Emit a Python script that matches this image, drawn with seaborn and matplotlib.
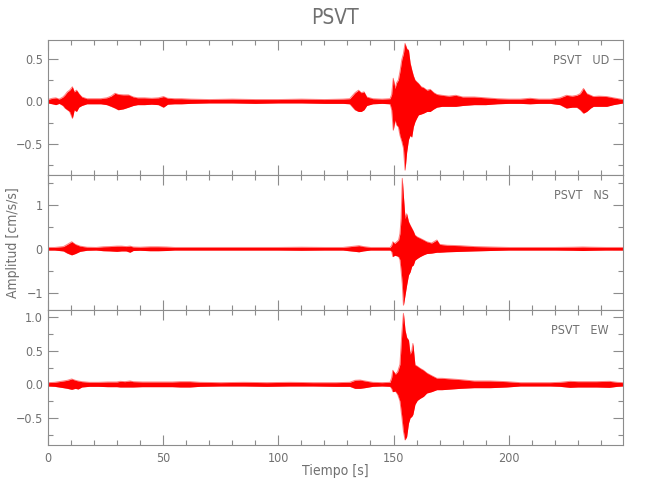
import pandas as pd
import matplotlib
matplotlib.use("Agg")
import matplotlib.pyplot as plt
import seaborn as sns
from matplotlib.ticker import MultipleLocator

station = "PSVT"
components = ["UD", "NS", "EW"]

ud_t = ([0, 2, 3.5, 5, 6.6, 7.5, 8.5, 9.5, 10.7, 11.5, 12.5, 13.5, 14.8]
        + [17, 20, 23, 25.6, 27.5, 29.2, 30.6, 32.8, 35, 37.1, 39, 42, 45, 48, 50.2, 52, 55, 58, 62]
        + [70, 80, 90, 100, 110, 120, 128, 131, 133.3, 134.8, 136, 137.2, 138.4, 141, 145, 148.5]
        + [149.2, 149.9, 150.6, 151.4, 152.1, 152.8, 153.6, 154.3, 155.0, 155.7, 156.5, 157.2, 157.9, 158.6, 159.3, 160.0, 160.8]
        + [162, 163, 164.5, 165.9, 167.5, 168.8, 171, 174, 177, 180, 185, 190, 195, 200, 205, 209.2, 213, 218]
        + [222.2, 225, 227.5, 229.5, 231, 232.4, 233.8, 235.5, 236.7, 239, 242.5, 245.4, 247.5, 249.7])
ud_up = ([.02, .035, .04, .025, .05, .075, .11, .13, .17, .11, .13, .09, .05]
         + [.03, .03, .03, .04, .06, .094, .08, .075, .075, .05, .04, .04, .035, .04, .055, .035, .03, .03, .025]
         + [.02, .025, .02, .02, .025, .02, .025, .03, .1, .13, .1, .11, .05, .03, .025, .03]
         + [.08, .27, .15, .22, .25, .35, .49, .56, .68, .62, .6, .45, .37, .3, .25, .23, .21]
         + [.17, .16, .13, .14, .1, .08, .07, .06, .07, .05, .05, .04, .03, .025, .025, .035, .025, .025]
         + [.04, .07, .06, .07, .09, .15, .09, .07, .055, .06, .055, .04, .03, .02])
ud_lo = ([-.02, -.03, -.04, -.025, -.05, -.08, -.10, -.12, -.20, -.10, -.12, -.07, -.05]
         + [-.03, -.03, -.03, -.04, -.06, -.08, -.10, -.09, -.07, -.05, -.04, -.04, -.035, -.04, -.07, -.035, -.03, -.03, -.025]
         + [-.02, -.02, -.025, -.02, -.02, -.025, -.025, -.03, -.1, -.12, -.12, -.1, -.05, -.03, -.025, -.03]
         + [-.1, -.34, -.22, -.28, -.3, -.4, -.47, -.55, -.81, -.6, -.45, -.4, -.42, -.3, -.24, -.2, -.16]
         + [-.15, -.14, -.12, -.12, -.09, -.07, -.06, -.06, -.06, -.05, -.04, -.04, -.03, -.025, -.025, -.03, -.025, -.025]
         + [-.04, -.08, -.07, -.07, -.1, -.14, -.12, -.08, -.06, -.06, -.06, -.04, -.03, -.02])

ns_t = ([0, 3, 6.8, 8.5, 10.4, 12, 14, 17, 21, 24.1, 27, 30, 32, 34, 35.7, 37.1, 40, 44.4, 48, 51.6]
        + [55, 62, 70, 80, 90, 100, 110, 120, 128, 133.3, 135, 136.9, 140, 145, 148.5]
        + [149.2, 149.7, 150.5, 151.4, 152.2, 152.8, 153.3, 153.8, 154.3, 155.0, 155.7, 156.5, 157.2,
           157.9, 158.6, 159.3, 160.3, 161.5, 163, 164.4, 166.5, 168.8, 170, 173.2, 178.9]
        + [185, 192, 200, 210, 220, 228, 232, 236, 242, 249.7])
ns_up = ([.03, .03, .05, .1, .16, .1, .06, .035, .03, .045, .05, .06, .06, .05, .06, .04, .035, .045, .045, .04]
         + [.03, .03, .03, .03, .03, .03, .035, .03, .03, .06, .07, .05, .03, .03, .03]
         + [.08, .16, .12, .16, .2, .35, .7, 1.61, 1.2, .69, .8, .62, .54,
            .47, .4, .31, .27, .24, .2, .16, .13, .2, .1, .08, .07]
         + [.05, .04, .03, .03, .03, .035, .04, .035, .03, .03])
ns_lo = ([-.03, -.03, -.05, -.1, -.14, -.11, -.06, -.035, -.03, -.045, -.05, -.06, -.05, -.05, -.08, -.04, -.035, -.045, -.045, -.04]
         + [-.03, -.03, -.03, -.03, -.03, -.03, -.035, -.03, -.03, -.06, -.07, -.05, -.03, -.03, -.03]
         + [-.06, -.18, -.15, -.16, -.18, -.25, -.5, -.8, -1.29, -1.06, -.83, -.6, -.53,
            -.4, -.37, -.26, -.22, -.18, -.14, -.11, -.1, -.08, -.08, -.07, -.06]
         + [-.05, -.04, -.03, -.03, -.03, -.035, -.04, -.035, -.03, -.03])

ew_t = ([0, 3, 6.8, 8.5, 10.4, 12, 13.2, 14.8, 18, 22, 26, 30, 31.4, 33.5, 35.7, 37.1, 41, 46, 50, 54]
        + [57.4, 60, 61.7, 66, 75, 85, 95, 105, 115, 125, 131, 133.3, 135.5, 137.6, 141, 145, 148.5]
        + [149.2, 149.7, 150.8, 151.8, 152.8, 153.6, 154.3, 155.0, 155.7, 156.5, 157.2, 157.9,
           158.4, 159.3, 160.3, 161.5, 163, 164.4, 166.5, 168.8, 171, 175, 179]
        + [185, 192, 199, 205, 212, 218, 222.2, 226.5, 230, 234, 238, 243.6, 247, 249.7])
ew_up = ([.025, .03, .05, .06, .08, .06, .05, .04, .03, .03, .035, .035, .045, .04, .05, .04, .035, .035, .035, .035]
         + [.04, .04, .04, .03, .025, .03, .025, .03, .025, .025, .03, .06, .064, .05, .03, .025, .03]
         + [.1, .21, .15, .19, .3, .76, 1.06, .81, .7, .66, .45, .5,
            .61, .29, .27, .24, .21, .17, .13, .09, .09, .08, .07]
         + [.05, .05, .04, .025, .025, .025, .03, .045, .04, .04, .04, .045, .03, .025])
ew_lo = ([-.025, -.03, -.05, -.06, -.075, -.06, -.07, -.04, -.03, -.03, -.035, -.035, -.04, -.04, -.04, -.04, -.035, -.035, -.035, -.035]
         + [-.04, -.04, -.04, -.03, -.025, -.025, -.03, -.025, -.025, -.03, -.03, -.06, -.06, -.05, -.03, -.025, -.03]
         + [-.06, -.11, -.1, -.15, -.25, -.48, -.7, -.83, -.78, -.58, -.5, -.48,
            -.45, -.3, -.24, -.21, -.18, -.13, -.11, -.08, -.08, -.07, -.06]
         + [-.05, -.05, -.04, -.025, -.025, -.025, -.03, -.045, -.04, -.04, -.04, -.045, -.03, -.025])

# rangos de cada eje (como en el original)
ylims = [(-0.867, 0.72), (-1.40, 1.686), (-0.906, 1.11)]
ymajor = [0.5, 1.0, 0.5]
yminor = [0.25, 0.5, 0.25]
t_end = 249.7

# --- estilo ---
sns.set_style("ticks")
plt.rcParams['font.family'] = ['DejaVu Sans']
plt.rcParams['font.stretch'] = 'condensed'
gray = '#707070'
spine = '#8c8c8c'

fig, axes = plt.subplots(3, 1, figsize=(6.5, 5), dpi=100, sharex=True)
fig.subplots_adjust(left=0.0734, right=0.959, top=0.92, bottom=0.11, hspace=0)

series = [(ud_t, ud_up, ud_lo), (ns_t, ns_up, ns_lo), (ew_t, ew_up, ew_lo)]
for i, ax in enumerate(axes):
    t, up, lo = series[i]
    df = pd.DataFrame({'t': t, 'up': up, 'lo': lo})
    ax.fill_between(df['t'], df['lo'], df['up'], color='red', lw=0)
    sns.lineplot(data=df, x='t', y='up', ax=ax, color='red', lw=0.7, alpha=0.5)
    sns.lineplot(data=df, x='t', y='lo', ax=ax, color='red', lw=0.7, alpha=0.5)

    ax.set_xlim(0, t_end)
    ax.set_ylim(*ylims[i])
    ax.set_xlabel('')
    ax.set_ylabel('')
    ax.xaxis.set_major_locator(MultipleLocator(50))
    ax.xaxis.set_minor_locator(MultipleLocator(10))
    ax.yaxis.set_major_locator(MultipleLocator(ymajor[i]))
    ax.yaxis.set_minor_locator(MultipleLocator(yminor[i]))
    ax.tick_params(which='both', direction='in', top=True, right=True,
                   color=spine, labelcolor=gray, labelsize=9, width=0.8)
    ax.tick_params(which='major', length=7.5)
    ax.tick_params(which='minor', length=3.8)
    for s in ax.spines.values():
        s.set_color(spine)
        s.set_linewidth(0.8)
    ax.text(0.975, 0.845, f'{station}   {components[i]}', transform=ax.transAxes,
            ha='right', va='center', color=gray, fontsize=9)

axes[-1].tick_params(axis='x', pad=5)
fig.text(0.516, 0.964, station, ha='center', va='center', color=gray, fontsize=15)
fig.text(0.516, 0.058, 'Tiempo [s]', ha='center', va='center', color=gray, fontsize=10)
fig.text(0.02, 0.515, 'Amplitud [cm/s/s]', ha='center', va='center', rotation=90,
         color=gray, fontsize=10)

plt.savefig('out.png', dpi=100)
